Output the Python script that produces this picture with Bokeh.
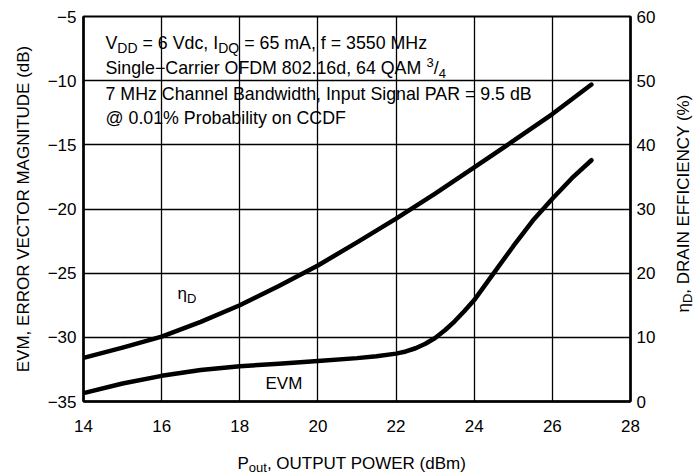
import math
from bokeh.plotting import figure
from bokeh.models import Range1d, LinearAxis, Label, CustomJSTickFormatter, FixedTicker
from bokeh.embed import file_html
from bokeh.resources import INLINE

# ---------------- data ----------------
pout_evm = [14, 15, 16, 17, 18, 19, 20, 21, 21.5, 22, 22.25, 22.5, 22.75, 23, 23.25, 23.5, 23.75,
            24, 24.5, 25, 25.5, 26, 26.5, 27]
evm_db = [-34.35, -33.6, -33.0, -32.55, -32.25, -32.05, -31.85, -31.62, -31.47, -31.27, -31.1,
          -30.85, -30.5, -30.05, -29.45, -28.75, -27.95, -27.1, -25.0, -22.9, -20.9, -19.2,
          -17.6, -16.2]

pout_eff = [14, 15, 16, 17, 18, 19, 20, 21, 22, 23, 24, 25, 26, 27]
eff_pct = [6.8, 8.4, 10.1, 12.4, 15.0, 18.0, 21.2, 24.8, 28.5, 32.4, 36.5, 40.6, 44.8, 49.4]

x_ticks = [14, 16, 18, 20, 22, 24, 26, 28]
evm_ticks = [-35, -30, -25, -20, -15, -10, -5]
eff_ticks = [0, 10, 20, 30, 40, 50, 60]

FONT = "Liberation Sans"

# Arial-compatible advance widths (1/1000 em) used to chain sub/superscript pieces
W = {' ': 278, ',': 278, '.': 278, '=': 584, '\u2212': 584, '/': 278, '%': 889, '(': 333, ')': 333,
     '@': 1015, '\u03b7': 556, '-': 333}
for ch in "0123456789":
    W[ch] = 556
W.update(dict(A=667, B=667, C=722, D=722, E=667, F=611, G=778, H=722, I=278, J=500, K=667, L=556,
              M=833, N=722, O=778, P=667, Q=778, R=722, S=667, T=611, U=722, V=667, W=944, X=667,
              Y=667, Z=611))
W.update(dict(a=556, b=556, c=500, d=556, e=556, f=278, g=556, h=556, i=222, j=222, k=500, l=222,
              m=833, n=556, o=556, p=556, q=556, r=333, s=500, t=278, u=556, v=500, w=722, x=500,
              y=500, z=500))


def tw(s, size):
    return sum(W.get(ch, 556) for ch in s) * size / 1000.0


p = figure(frame_width=547, frame_height=385,
           x_range=Range1d(14, 28), y_range=Range1d(-35, -5),
           output_backend="svg", toolbar_location=None,
           min_border_left=83, min_border_right=66, min_border_top=16, min_border_bottom=75)
p.extra_y_ranges = {"eff": Range1d(0, 60)}

p.outline_line_color = "black"
p.outline_line_width = 2
p.background_fill_color = "white"
p.border_fill_color = "white"

minus_fmt = CustomJSTickFormatter(code="return tick < 0 ? '\u2212' + Math.abs(tick) : String(tick);")

bottom = p.below[0]
left = p.left[0]
bottom.ticker = FixedTicker(ticks=x_ticks)
left.ticker = FixedTicker(ticks=evm_ticks)
left.formatter = minus_fmt

right = LinearAxis(y_range_name="eff", ticker=FixedTicker(ticks=eff_ticks))
p.add_layout(right, "right")

for ax in (bottom, left, right):
    ax.major_tick_in = 0
    ax.major_tick_out = 0
    ax.minor_tick_in = 0
    ax.minor_tick_out = 0
    ax.axis_line_color = "black"
    ax.axis_line_width = 2.5
    ax.major_label_text_font = FONT
    ax.major_label_text_font_size = "17px"
    ax.major_label_text_color = "black"
left.major_label_standoff = 7
bottom.major_label_standoff = 18
right.major_label_standoff = 6

left.axis_label = "EVM, ERROR VECTOR MAGNITUDE (dB)"
left.axis_label_text_font = FONT
left.axis_label_text_font_size = "17px"
left.axis_label_text_font_style = "normal"
left.axis_label_text_color = "black"
left.axis_label_standoff = 12

p.xgrid.ticker = FixedTicker(ticks=x_ticks)
p.ygrid.ticker = FixedTicker(ticks=evm_ticks)
for g in (p.xgrid, p.ygrid):
    g.grid_line_color = "black"
    g.grid_line_width = 1.3
    g.grid_line_alpha = 1.0

p.line(pout_evm, evm_db, line_color="black", line_width=4.5, line_join="round", line_cap="round")
p.line(pout_eff, eff_pct, y_range_name="eff", line_color="black", line_width=4.5,
       line_join="round", line_cap="round")

BIAS = 7  # renderer draws baselines this many px lower than the nominal offset


def lab(text, xo, yo, size, anchor=(14, -5), angle=0.0, align="left", place=None, **kw):
    l = Label(x=anchor[0], y=anchor[1], x_offset=xo, y_offset=yo, text=text,
              text_font=FONT, text_font_size=f"{size}px", text_color="black",
              text_align=align, text_baseline="alphabetic", angle=angle, **kw)
    if place is None:
        p.add_layout(l)
    else:
        p.add_layout(l, place)
    return l


def chain(pieces, x, base, anchor=(14, -5), place=None):
    """pieces: (text, size, vertical shift). Leading spaces become an x advance."""
    for t, size, dy in pieces:
        stripped = t.lstrip(" ")
        x += tw(t[:len(t) - len(stripped)], size)
        lab(stripped, x, base + dy, size, anchor=anchor, place=place)
        x += tw(stripped, size)
    return x


# ---------------- text box (white backgrounds first) ----------------
MS, SS = 17.8, 14
lines_plain = ["VDD = 6 Vdc, IDQ = 65 mA, f = 3550 MHz",
               "Single\u2212Carrier OFDM 802.16d, 64 QAM 3/4",
               "7 MHz Channel Bandwidth, Input Signal PAR = 9.5 dB",
               "@ 0.01% Probability on CCDF"]
bases = [-33 + BIAS, -58.5 + BIAS, -84.5 + BIAS, -108.5 + BIAS]
X0 = 22
for t, b in zip(lines_plain, bases):
    lab(t, X0, b, MS, text_alpha=0.0, background_fill_color="white",
        padding=dict(left=7, right=1, top=3, bottom=5))

chain([("V", MS, 0), ("DD", SS, -5), (" = 6 Vdc, I", MS, 0), ("DQ", SS, -5),
       (" = 65 mA, f = 3550 MHz", MS, 0)], X0, bases[0])
chain([("Single\u2212Carrier OFDM 802.16d, 64 QAM", MS, 0), (" ", MS, 0), ("3", 13, 6),
       ("/", MS, 0), ("4", 13, -5)], X0, bases[1])
lab(lines_plain[2], X0, bases[2], MS)
lab(lines_plain[3], X0, bases[3], MS)

# ---------------- curve labels ----------------
BL = (14, -35)
chain([("\u03b7", 17, 0), ("D", 13, -5)], 94, 101 + BIAS, anchor=BL)
lab("EVM", 182, 11 + BIAS, 17, anchor=BL)

# ---------------- bottom axis title (side panel, not clipped) ----------------
chain([("P", 17, 0), ("out", 13, -4), (", OUTPUT POWER (dBm)", 17, 0)], 154, -69 + BIAS,
      anchor=BL, place="below")

# ---------------- right axis title ----------------
BR = (28, -35)
y = 89
for t, size, dx in [("\u03b7", 17, 0), ("D", 13, 4), (", DRAIN EFFICIENCY (%)", 17, 0)]:
    lab(t, 60 - BIAS + dx, y, size, anchor=BR, angle=math.pi / 2, place="right")
    y += tw(t, size)

open("out.html", "w").write(file_html(p, INLINE))
